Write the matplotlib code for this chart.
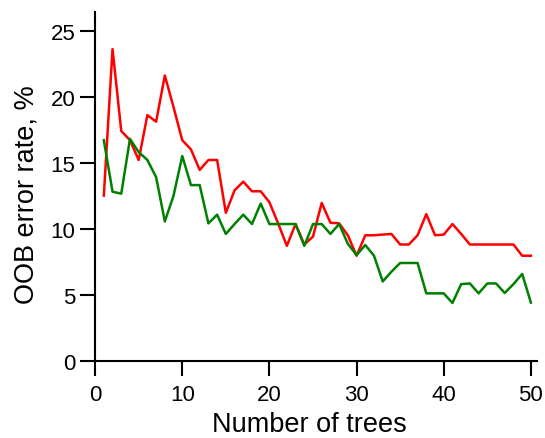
import matplotlib
matplotlib.use("Agg")
import matplotlib.pyplot as plt

plt.rcParams['font.family'] = ['Liberation Sans', 'DejaVu Sans']

trees = list(range(1, 51))
red_err = [12.5, 23.6, 17.4, 16.7, 15.2, 18.6, 18.1, 21.6, 19.2, 16.7,
           16.0, 14.45, 15.2, 15.2, 11.2, 12.9, 13.56, 12.83, 12.83, 12.0,
           10.4, 8.7, 10.35, 8.8, 9.4, 11.95, 10.45, 10.4, 9.5, 7.95,
           9.5, 9.5, 9.55, 9.6, 8.8, 8.8, 9.5, 11.1, 9.5, 9.55,
           10.35, 9.6, 8.8, 8.8, 8.8, 8.8, 8.8, 8.8, 7.95, 7.95]
green_err = [16.7, 12.8, 12.65, 16.8, 15.8, 15.2, 13.9, 10.55, 12.5, 15.5,
             13.3, 13.3, 10.4, 11.06, 9.6, 10.35, 11.06, 10.35, 11.9, 10.35,
             10.35, 10.35, 10.35, 8.7, 10.35, 10.35, 9.6, 10.35, 8.85, 8.0,
             8.76, 7.95, 6.0, 6.74, 7.4, 7.4, 7.4, 5.1, 5.1, 5.1,
             4.37, 5.8, 5.85, 5.1, 5.85, 5.85, 5.13, 5.8, 6.57, 4.4]
x_ticks = [0, 10, 20, 30, 40, 50]
y_ticks = [0, 5, 10, 15, 20, 25]

fig = plt.figure(figsize=(5.45, 4.39), dpi=100)
ax = fig.add_axes([0.1745, 0.1761, 0.8108, 0.794])

ax.plot(trees, red_err, color='#ff0000', lw=1.8)
ax.plot(trees, green_err, color='#008000', lw=1.8)

ax.set_xlim(0, 50.7)
ax.set_ylim(0, 26.4)
ax.set_xticks(x_ticks)
ax.set_yticks(y_ticks)

for s in ['top', 'right']:
    ax.spines[s].set_visible(False)
for s in ['left', 'bottom']:
    ax.spines[s].set_linewidth(1.5)

ax.tick_params(axis='both', direction='out', length=10.8, width=1.5,
               labelsize=16)
ax.tick_params(axis='x', pad=6)
ax.tick_params(axis='y', pad=3.5)

ax.set_xlabel('Number of trees', fontsize=19.5, labelpad=4)
ax.xaxis.label.set_x(0.486)
ax.set_ylabel('OOB error rate, %', fontsize=19.5, labelpad=8)
ax.yaxis.label.set_y(0.48)

fig.savefig('out.png', dpi=100)
